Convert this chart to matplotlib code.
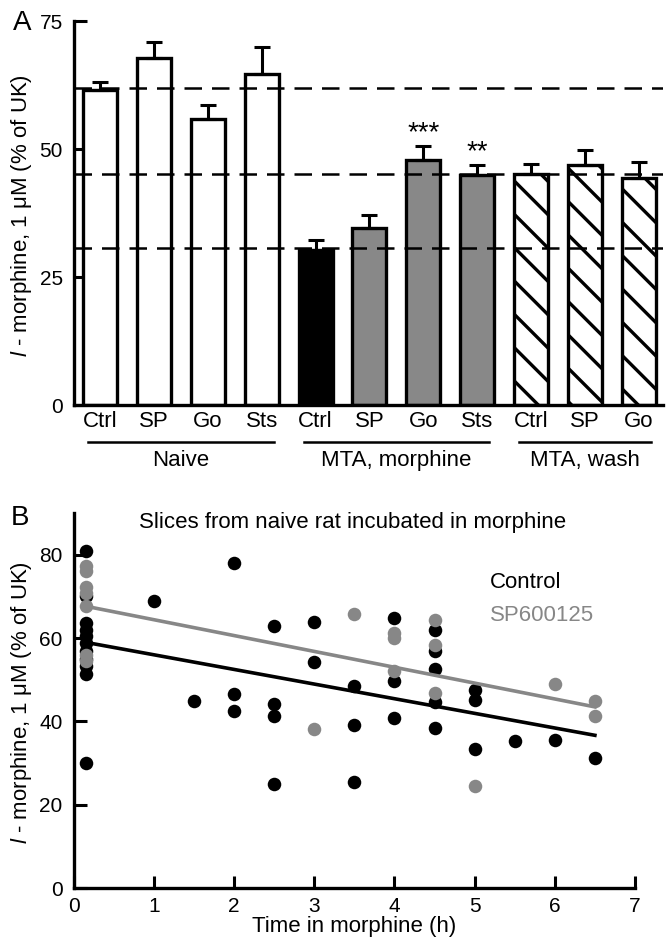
import matplotlib
matplotlib.use('Agg')
import matplotlib.pyplot as plt
import matplotlib.transforms as mtransforms
import numpy as np

plt.rcParams['font.family'] = ['Liberation Sans', 'DejaVu Sans']
plt.rcParams['mathtext.fontset'] = 'custom'
plt.rcParams['mathtext.rm'] = 'Liberation Sans'
plt.rcParams['mathtext.it'] = 'Liberation Sans:italic'
plt.rcParams['hatch.linewidth'] = 2.4

# ---- panel A data ----
bar_labels = ['Ctrl', 'SP', 'Go', 'Sts', 'Ctrl', 'SP', 'Go', 'Sts', 'Ctrl', 'SP', 'Go']
bar_means = [61.6, 67.7, 55.8, 64.6, 30.3, 34.5, 47.9, 45.0, 45.1, 46.9, 44.3]
bar_sems = [1.5, 3.3, 2.9, 5.3, 1.9, 2.6, 2.7, 1.9, 2.0, 2.9, 3.1]
bar_kinds = ['open'] * 4 + ['black'] + ['grey'] * 3 + ['hatch'] * 3
group_names = ['Naive', 'MTA, morphine', 'MTA, wash']
group_sizes = [4, 4, 3]
stars = {6: '***', 7: '**'}
ref_levels = [61.9, 45.2, 30.6]

# ---- panel B data ----
ctrl_t = [0.15] * 11 + [1, 1.5, 2, 2, 2, 2.5, 2.5, 2.5, 2.5, 3, 3, 3.5, 3.5, 3.5,
                        4, 4, 4, 4.5, 4.5, 4.5, 4.5, 4.5, 5, 5, 5, 5.5, 6, 6.5]
ctrl_v = [80.8, 70.0, 63.6, 62.0, 60.4, 58.8, 56.8, 55.0, 53.2, 51.4, 30.0,
          68.8, 45.0, 77.9, 46.6, 42.4, 63.0, 44.2, 41.2, 25.0, 63.8, 54.3,
          48.6, 39.1, 25.6, 64.7, 49.6, 40.8, 62.0, 56.8, 52.6, 44.7, 38.5,
          47.6, 45.1, 33.4, 35.3, 35.5, 31.3]
sp_t = [0.15] * 7 + [3, 3.5, 4, 4, 4, 4.5, 4.5, 4.5, 5, 6, 6.5, 6.5]
sp_v = [77.4, 76.0, 72.3, 70.8, 67.6, 56.0, 54.5,
        38.2, 65.8, 61.2, 60.0, 52.0, 64.4, 58.4, 46.8, 24.5, 49.0, 45.0, 41.2]
fit_range = [0.15, 6.5]
ctrl_fit = (59.5, -3.51)   # intercept, slope
sp_fit = (68.2, -3.80)

GREY = '#878787'
fig = plt.figure(figsize=(6.67, 9.4), dpi=100)

# ================= Panel A =================
ax = fig.add_axes([0.1109, 0.5691, 0.883, 0.4085])
x = np.arange(len(bar_means))
for xi, m, kind in zip(x, bar_means, bar_kinds):
    fc = {'open': 'white', 'black': 'black', 'grey': '#888888', 'hatch': 'white'}[kind]
    ax.bar(xi, m, width=0.63, color=fc, edgecolor='black', linewidth=2.4,
           hatch='\\' if kind == 'hatch' else None, zorder=2)
ax.errorbar(x, bar_means, yerr=[np.zeros(len(bar_sems)), bar_sems], fmt='none',
            ecolor='black', elinewidth=2.2, capsize=5.5, capthick=2.2, zorder=3)
for lvl in ref_levels:
    ax.axhline(lvl, color='black', linewidth=1.8, dashes=(7, 4), zorder=4)
for i, s in stars.items():
    ax.annotate(s, xy=(x[i], bar_means[i] + bar_sems[i]), xytext=(0, 0),
                textcoords='offset points', ha='center', va='bottom', fontsize=20)

ax.set_xlim(-0.482, 10.445)
ax.set_ylim(0, 75)
ax.set_yticks([0, 25, 50, 75])
ax.set_xticks(x)
ax.set_xticklabels(bar_labels, fontsize=16)
ax.tick_params(axis='x', length=0, pad=4)
ax.tick_params(axis='y', direction='in', length=9, width=2.2, labelsize=15, pad=8)
for sp in ['top', 'right']:
    ax.spines[sp].set_visible(False)
for sp in ['left', 'bottom']:
    ax.spines[sp].set_linewidth(2.4)

trans = mtransforms.blended_transform_factory(ax.transData, ax.transAxes)
start = 0
for name, n in zip(group_names, group_sizes):
    x0, x1 = start - 0.22, start + n - 1 + 0.22
    ax.plot([x0, x1], [-0.0956, -0.0956], color='black', linewidth=1.8,
            transform=trans, clip_on=False)
    ax.text((start + start + n - 1) / 2, -0.145, name, transform=trans,
            ha='center', va='center', fontsize=16)
    start += n

ylab = r'$\mathit{l}$ - morphine, 1 μM (% of UK)'
fig.text(22 / 667, 1 - 216 / 940, ylab, rotation=90, ha='center', va='center', fontsize=16)
fig.text(22 / 667, 1 - 23 / 940, 'A', ha='center', va='center', fontsize=20)

# ================= Panel B =================
bx = fig.add_axes([0.1106, 0.055, 0.8414, 0.3993])
bx.scatter(ctrl_t, ctrl_v, s=95, color='black', linewidths=0, zorder=3)
bx.scatter(sp_t, sp_v, s=95, color=GREY, linewidths=0, zorder=4)
tt = np.array(fit_range)
bx.plot(tt, ctrl_fit[0] + ctrl_fit[1] * tt, color='black', linewidth=2.6, zorder=5)
bx.plot(tt, sp_fit[0] + sp_fit[1] * tt, color=GREY, linewidth=2.6, zorder=5)

bx.set_xlim(0, 7)
bx.set_ylim(0, 90)
bx.set_xticks(range(0, 8))
bx.set_yticks([0, 20, 40, 60, 80])
bx.tick_params(direction='in', length=9, width=2.2, labelsize=15)
bx.tick_params(axis='y', pad=8)
bx.tick_params(axis='x', pad=6)
for sp in ['top', 'right']:
    bx.spines[sp].set_visible(False)
for sp in ['left', 'bottom']:
    bx.spines[sp].set_linewidth(2.4)
bx.set_xlabel('Time in morphine (h)', fontsize=16, labelpad=0)
bx.text(0.496, 0.975, 'Slices from naive rat incubated in morphine',
        transform=bx.transAxes, ha='center', va='center', fontsize=16)
bx.text(5.19, 73.3, 'Control', color='black', ha='left', va='center', fontsize=16)
bx.text(5.19, 65.3, 'SP600125', color=GREY, ha='left', va='center', fontsize=16)

fig.text(22 / 667, 1 - 703 / 940, ylab, rotation=90, ha='center', va='center', fontsize=16)
fig.text(20 / 667, 1 - 518 / 940, 'B', ha='center', va='center', fontsize=20)

fig.savefig('out.png', dpi=100)
